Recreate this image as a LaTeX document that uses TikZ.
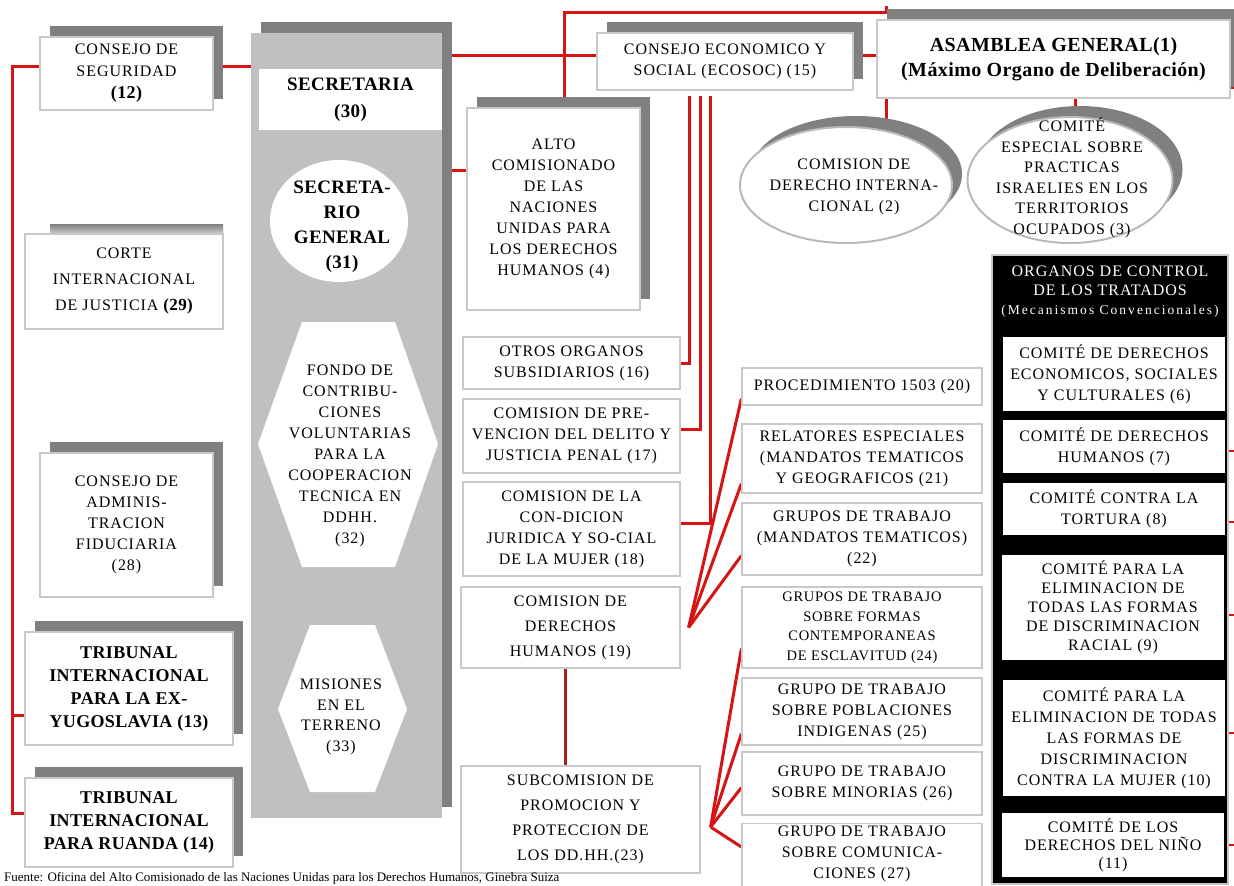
\documentclass[tikz,border=0pt]{standalone}
\usepackage{fontspec}
\setmainfont{Liberation Serif}
\newfontfamily\orgfont[LetterSpace=6]{Liberation Serif}
\newfontfamily\orgwide[LetterSpace=15]{Liberation Serif}
\newfontfamily\orgtight[LetterSpace=5]{Liberation Serif}
\newfontfamily\orgheavy[LetterSpace=2]{Liberation Serif}
\usetikzlibrary{shapes.geometric,shadows,positioning}
\definecolor{unred}{RGB}{215,20,20}
\definecolor{undark}{RGB}{170,30,30}
\definecolor{shade}{RGB}{128,128,128}
\definecolor{panel}{RGB}{192,192,192}
\definecolor{boxline}{RGB}{200,200,200}
\definecolor{ovalline}{RGB}{185,185,185}
\pgfdeclarelayer{background}
\pgfsetlayers{background,main}

\begin{document}
\begin{tikzpicture}[x=1pt, y=-1pt,
                redline/.style={draw=unred, line width=3pt},
                darkline/.style={draw=undark, line width=3pt}]
        \tikzset{
                basic/.style    = {draw=boxline, line width=1.2pt, fill=white, align=center, inner sep=0pt,
                                  font=\orgfont\fontsize{16}{21}\selectfont},
                shadowed/.style = {drop shadow={shadow xshift=10pt, shadow yshift=11pt, fill=shade, opacity=1}},
                heavy/.style    = {font=\orgheavy\bfseries\fontsize{18}{23}\selectfont},
                oval/.style     = {ellipse, draw=ovalline, line width=2pt, fill=white, inner sep=0pt, shadowed},
                plain/.style    = {align=center, inner sep=0pt, font=\orgfont\fontsize{16}{21}\selectfont},
                treaty/.style   = {fill=white, minimum width=222pt, align=center, inner sep=0pt,
                                  font=\orgfont\fontsize{16}{21}\selectfont}
        }
        \useasboundingbox (0,0) rectangle (1234,886);
        \begin{pgfonlayer}{background}
                \fill[white] (0,0) rectangle (1234,886);
        \end{pgfonlayer}
        \coordinate (rand) at (1234,0);

        % left column
        \node[basic, shadowed, minimum width=173pt, minimum height=73pt,
              font=\orgfont\fontsize{16}{22}\selectfont] (segur) at (126.5,73.5)
              {CONSEJO DE\\SEGURIDAD\\{\orgheavy\bfseries\fontsize{18}{23}\selectfont (12)}};
        \fill[shade] (50,224) rectangle (223,240);
        \node[basic, minimum width=198pt, minimum height=95pt,
              font=\orgfont\fontsize{16}{26}\selectfont] (corte) at (124,281.5)
              {CORTE\\INTERNACIONAL\\DE JUSTICIA {\orgheavy\bfseries\fontsize{17}{26}\selectfont (29)}};
        \node[basic, shadowed, minimum width=173pt, minimum height=144pt] (fiduc) at (126.5,525)
              {CONSEJO DE\\ADMINIS-\\TRACION\\FIDUCIARIA\\(28)};
        \node[basic, shadowed, heavy, minimum width=208pt, minimum height=113pt] (yugo) at (129,688.5)
              {TRIBUNAL\\INTERNACIONAL\\PARA LA EX-\\YUGOSLAVIA (13)};
        \node[basic, shadowed, heavy, minimum width=208pt, minimum height=89pt] (ruanda) at (129,822.5)
              {TRIBUNAL\\INTERNACIONAL\\PARA RUANDA (14)};

        % secretaria
        \node[fill=panel, minimum width=191pt, minimum height=785pt, inner sep=0pt, shadowed] (secpanel) at (346.5,425.5) {};
        \node[fill=white, minimum width=183pt, minimum height=61pt, align=center, inner sep=0pt,
              font=\orgheavy\bfseries\fontsize{19}{27}\selectfont] (secret) at (350.5,99.5) {SECRETARIA\\(30)};
        \node[ellipse, fill=white, minimum width=138pt, minimum height=122pt, inner sep=0pt] (secgen) at (339,221) {};
        \node[plain, font=\orgheavy\bfseries\fontsize{19}{25}\selectfont] (secgent) at (342,227)
              {SECRETA-\\RIO\\GENERAL\\(31)};
        \fill[white] (258,444) -- (302,322) -- (395,322) -- (438,444) -- (395,567) -- (302,567) -- cycle;
        \node[plain] (fondo) at (350,456)
              {FONDO DE\\CONTRIBU-\\CIONES\\VOLUNTARIAS\\PARA LA\\COOPERACION\\TECNICA EN\\DDHH.\\(32)};
        \fill[white] (278,709) -- (310,625) -- (375,625) -- (407,709) -- (375,792) -- (310,792) -- cycle;
        \node[plain, font=\orgfont\fontsize{16}{20.5}\selectfont] (misiones) at (341,717)
              {MISIONES\\EN EL\\TERRENO\\(33)};

        % top row
        \node[basic, shadowed, minimum width=173pt, minimum height=202pt] (alto) at (553.5,209)
              {ALTO\\COMISIONADO\\DE LAS\\NACIONES\\UNIDAS PARA\\LOS DERECHOS\\HUMANOS (4)};
        \node[basic, shadowed, minimum width=256pt, minimum height=57pt] (ecosoc) at (725,61.5)
              {CONSEJO ECONOMICO Y\\SOCIAL (ECOSOC) (15)};
        \node[basic, shadowed, minimum width=353pt, minimum height=78pt,
              font=\orgheavy\bfseries\fontsize{20}{25}\selectfont] (asamblea) at (1053.5,59)
              {ASAMBLEA GENERAL(1)\\(Máximo Organo de Deliberación)};
        \node[oval, minimum width=212pt, minimum height=116pt] (cdi) at (846,185) {};
        \node[plain] (cdit) at (854,187) {COMISION DE\\DERECHO INTERNA-\\CIONAL (2)};
        \node[oval, minimum width=205pt, minimum height=126pt] (cep) at (1070,180) {};
        \node[plain, font=\orgfont\fontsize{16}{20.5}\selectfont] (cept) at (1072,178)
              {COMITÉ\\ESPECIAL SOBRE\\PRACTICAS\\ISRAELIES EN LOS\\TERRITORIOS\\OCUPADOS (3)};

        % middle column
        \node[basic, minimum width=217pt, minimum height=52pt] (otros) at (571.5,363) {OTROS ORGANOS\\SUBSIDIARIOS (16)};
        \node[basic, minimum width=217pt, minimum height=74pt] (delito) at (571.5,436)
              {COMISION DE PRE-\\VENCION DEL DELITO Y\\JUSTICIA PENAL (17)};
        \node[basic, minimum width=217pt, minimum height=94pt] (mujer) at (571.5,529)
              {COMISION DE LA\\CON-DICION\\JURIDICA Y SO-CIAL\\DE LA MUJER (18)};
        \node[basic, minimum width=219pt, minimum height=81pt,
              font=\orgfont\fontsize{16}{25}\selectfont] (cdh) at (570.5,627.5)
              {COMISION DE\\DERECHOS\\HUMANOS (19)};
        \node[basic, minimum width=239pt, minimum height=107pt,
              font=\orgfont\fontsize{16}{25}\selectfont] (subcom) at (580.5,819.5)
              {SUBCOMISION DE\\PROMOCION Y\\PROTECCION DE\\LOS DD.HH.(23)};

        % right column
        \begin{scope}[every node/.style={basic, minimum width=240pt}]
                \node[minimum height=37pt] (proc) at (862,386.5) {PROCEDIMIENTO 1503 (20)};
                \node[minimum height=69pt] (relat) at (862,458.5) {RELATORES ESPECIALES\\(MANDATOS TEMATICOS\\Y GEOGRAFICOS (21)};
                \node[minimum height=72pt] (gtema) at (862,539) {GRUPOS DE TRABAJO\\(MANDATOS TEMATICOS)\\(22)};
                \node[minimum height=81pt, font=\orgtight\fontsize{14.5}{19.5}\selectfont] (esclav) at (862,627.5)
                      {GRUPOS DE TRABAJO\\SOBRE FORMAS\\CONTEMPORANEAS\\DE ESCLAVITUD (24)};
                \node[minimum height=67pt] (indig) at (862,711.5) {GRUPO DE TRABAJO\\SOBRE POBLACIONES\\INDIGENAS (25)};
                \node[minimum height=63pt] (minor) at (862,783.5) {GRUPO DE TRABAJO\\SOBRE MINORIAS (26)};
                \node[anchor=north, inner ysep=2pt, text depth=30pt, font=\orgfont\fontsize{16}{21}\selectfont] (comunic) at (862,823)
                      {GRUPO DE TRABAJO\\SOBRE COMUNICA-\\CIONES (27)};
        \end{scope}

        % treaty bodies
        \node[fill=black, draw=boxline, line width=1.5pt, minimum width=236pt, minimum height=629pt, inner sep=0pt] (tratados) at (1110,569.5) {};
        \node[plain, text=white, font=\orgfont\fontsize{16}{19}\selectfont] (tratadost) at (1110,292)
              {ORGANOS DE CONTROL\\DE LOS TRATADOS\\{\orgwide\fontsize{13.5}{19}\selectfont(Mecanismos Convencionales)}};
        \begin{scope}[every node/.style={treaty}]
                \node[minimum height=74pt] (cdesc) at (1114,374) {COMITÉ DE DERECHOS\\ECONOMICOS, SOCIALES\\Y CULTURALES (6)};
                \node[minimum height=53pt] (cdhum) at (1114,446.5) {COMITÉ DE DERECHOS\\HUMANOS (7)};
                \node[minimum height=52pt] (ctort) at (1114,509) {COMITÉ CONTRA LA\\TORTURA (8)};
                \node[minimum height=105pt, font=\orgfont\fontsize{16}{19}\selectfont] (craci) at (1113,607.5)
                      {COMITÉ PARA LA\\ELIMINACION DE\\TODAS LAS FORMAS\\DE DISCRIMINACION\\RACIAL (9)};
                \node[minimum height=116pt] (cmuj) at (1114,738)
                      {COMITÉ PARA LA\\ELIMINACION DE TODAS\\LAS FORMAS DE\\DISCRIMINACION\\CONTRA LA MUJER (10)};
                \node[minimum height=64pt, font=\orgfont\fontsize{16}{18}\selectfont] (cnino) at (1113,845)
                      {COMITÉ DE LOS\\DERECHOS DEL NIÑO\\(11)};
        \end{scope}

        % source line
        \node[anchor=west, inner sep=0pt, font=\fontsize{13}{15}\selectfont] (fuente) at (4,878)
              {Fuente: Oficina del Alto Comisionado de las Naciones Unidas para los Derechos Humanos, Ginebra Suiza};

        % connectors, kept behind the boxes and their shadows
        \begin{pgfonlayer}{background}
                \draw[redline] ([yshift=7.5pt]segur.west) -- ++(-27,0) |- ([yshift=9.5pt]ruanda.west);
                \draw[redline] ([yshift=-26.5pt]yugo.west) -- ++(-12,0);
                \draw[redline] ([yshift=7.5pt]segur.east) -- ([yshift=7.5pt]segur.east -| secpanel.west);
                \draw[redline] ([yshift=6.5pt]ecosoc.west) -- ([yshift=6.5pt]ecosoc.west -| secpanel.east);
                \draw[redline] ([yshift=39pt]alto.west) -- ([yshift=39pt]alto.west -| secpanel.east);
                \draw[redline] ([xshift=10pt,yshift=13pt]asamblea.north west) -- ++(0,6) -| ([xshift=10.5pt,yshift=10pt]alto.north);
                \draw[redline] ([yshift=6.5pt]ecosoc.east) -- ([yshift=6.5pt]ecosoc.east -| asamblea.west);
                \draw[redline] ([xshift=10pt]asamblea.south west) -- ([xshift=10pt]asamblea.south west |- cdi.north);
                \draw[redline] ([xshift=21.5pt]asamblea.south) -- ([xshift=21.5pt]asamblea.south |- cep.north);
                \draw[redline] ([yshift=-28pt]asamblea.east) -- ([yshift=-28pt]asamblea.east -| rand);

                % ECOSOC to its commissions
                \draw[redline] ([xshift=-36pt,yshift=-5pt]ecosoc.south) |- (otros.east);
                \draw[redline] ([xshift=-25pt,yshift=-5pt]ecosoc.south) |- ([yshift=7pt]delito.east);
                \draw[redline] ([xshift=-15pt,yshift=-5pt]ecosoc.south) |- ([yshift=6pt]mujer.east);

                % mechanisms converging on the commission and the subcommission
                \foreach \grupo/\dy in {proc/7, relat/10, gtema/20}
                \draw[redline] ([yshift=\dy pt]\grupo.south west) -- ([xshift=8pt]cdh.east);
                \foreach \grupo/\dy in {esclav/20, indig/12, minor/28}
                \draw[redline] ([yshift=\dy pt]\grupo.south west) -- ([xshift=10pt,yshift=-7.5pt]subcom.east);
                \draw[redline] ([yshift=-24pt]comunic.north west) -- ([xshift=10pt,yshift=-7.5pt]subcom.east);
                \draw[darkline] ([xshift=-5.5pt]cdh.south) -- ([xshift=-5.5pt]cdh.south |- subcom.north);

                % ticks leaving the treaty bodies
                \foreach \y in {451,522,615,733,845}
                \draw[redline, line width=2pt] (tratados.east |- 0,\y) -- (rand |- 0,\y);
        \end{pgfonlayer}
\end{tikzpicture}
\end{document}
